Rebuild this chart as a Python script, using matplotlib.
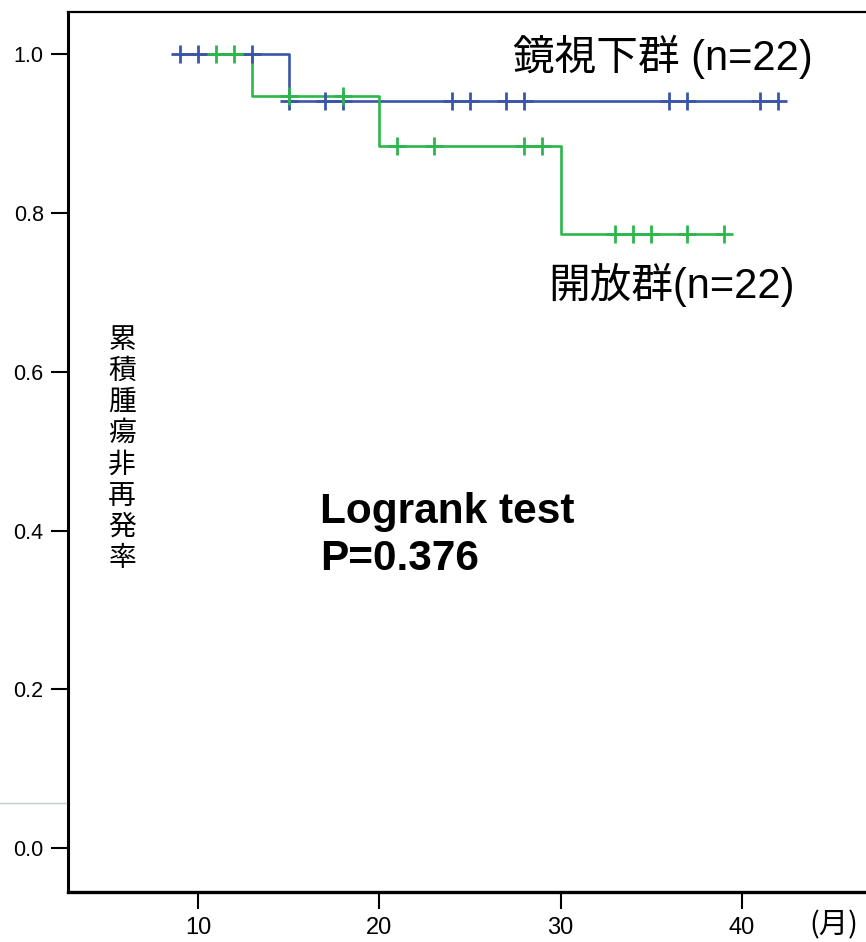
import matplotlib
matplotlib.use("Agg")
import matplotlib.pyplot as plt
from matplotlib.lines import Line2D
import numpy as np

# ---- data ----
blue_label = "鏡視下群 (n=22)"
green_label = "開放群(n=22)"
ylabel_text = "累積腫瘍非再発率"
stat_lines = ["Logrank test", "P=0.376"]
xunit = "(月)"

blue_times = [9, 15, 42]
blue_surv = [1.0, 0.941, 0.941]
blue_censor = [9, 10, 13, 15, 17, 18, 24, 25, 27, 28, 36, 37, 41, 42]

green_times = [11, 13, 20, 30, 39]
green_surv = [1.0, 0.947, 0.884, 0.774, 0.774]
green_censor = [11, 12, 15, 18, 21, 23, 28, 29, 33, 34, 35, 37, 39]

xticks = [10, 20, 30, 40]
yticks = [0.0, 0.2, 0.4, 0.6, 0.8, 1.0]

BLUE = "#3B55A8"
GREEN = "#2DB64B"

W, H = 866, 942
fig = plt.figure(figsize=(W / 100, H / 100), dpi=100)
ax = fig.add_axes([68 / W, 1 - 892 / H, 1 - 68 / W, (892 - 12) / H])


def surv_at(t, times, surv):
    idx = np.searchsorted(times, t, side="right") - 1
    idx = max(idx, 0)
    return surv[idx]


ax.step(blue_times, blue_surv, where="post", color=BLUE, lw=1.9, zorder=3)
ax.step(green_times, green_surv, where="post", color=GREEN, lw=1.9, zorder=4)
ax.plot(blue_censor, [surv_at(t, blue_times, blue_surv) for t in blue_censor],
        ls="none", marker="+", ms=13, mew=2.0, color=BLUE, zorder=5)
ax.plot(green_censor, [surv_at(t, green_times, green_surv) for t in green_censor],
        ls="none", marker="+", ms=13, mew=2.0, color=GREEN, zorder=6)

ax.set_xlim(2.83, 46.85)
ax.set_ylim(-0.055, 1.053)
ax.set_xticks(xticks)
ax.set_yticks(yticks)
tick_font = "Liberation Sans"
ax.set_xticklabels([str(v) for v in xticks], family=tick_font, fontsize=17)
ax.set_yticklabels([f"{v:.1f}" for v in yticks], family=tick_font, fontsize=15.5)
ax.tick_params(axis="both", direction="out", length=12, width=1.5, color="black")
ax.tick_params(axis="x", pad=6)
ax.tick_params(axis="y", pad=5.5)

ax.spines["right"].set_visible(False)
ax.spines["left"].set_linewidth(2.2)
ax.spines["bottom"].set_linewidth(2.4)
ax.spines["top"].set_linewidth(1.6)

cjk = ["Liberation Sans", "Noto Sans CJK JP"]

fig.text(513 / W, 1 - 57 / H, blue_label, family=cjk, fontsize=30, va="center", ha="left")
fig.text(548 / W, 1 - 285 / H, green_label, family=cjk, fontsize=30, va="center", ha="left")

fig.text(320 / W, 1 - 523 / H, stat_lines[0], family="Liberation Sans", fontweight="bold",
         fontsize=30.5, va="baseline", ha="left")
fig.text(320 / W, 1 - 570 / H, stat_lines[1], family="Liberation Sans", fontweight="bold",
         fontsize=30.5, va="baseline", ha="left")

for i, ch in enumerate(ylabel_text):
    fig.text(122 / W, 1 - (340 + i * 31.1) / H, ch, family="Noto Sans CJK JP",
             fontsize=20, va="center", ha="center")

fig.text(834 / W, 1 - 925 / H, xunit, family=["Noto Sans CJK JP"], fontsize=21,
         va="center", ha="center")

fig.add_artist(Line2D([0, 66 / W], [1 - 803 / H, 1 - 803 / H], color="#C3CCCC", lw=1.0,
                      transform=fig.transFigure))

fig.savefig("out.png", dpi=100)
